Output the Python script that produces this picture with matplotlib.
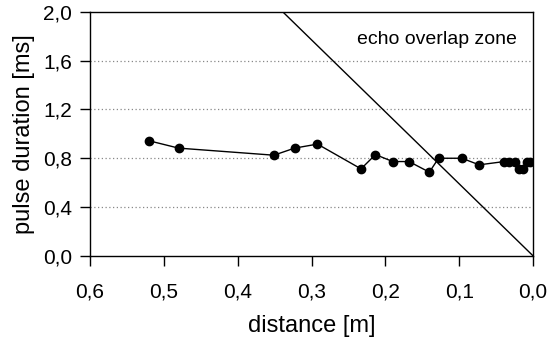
import matplotlib.pyplot as plt

plt.rcParams['font.family'] = ['Liberation Sans', 'DejaVu Sans']

# pulse duration vs distance
distance = [0.520, 0.480, 0.351, 0.323, 0.292, 0.233, 0.2135, 0.190, 0.168, 0.1405,
            0.128, 0.0964, 0.073, 0.039, 0.032, 0.025, 0.019, 0.013, 0.008, 0.004]
duration = [0.943, 0.883, 0.825, 0.883, 0.916, 0.713, 0.830, 0.773, 0.773, 0.686,
            0.800, 0.800, 0.746, 0.773, 0.773, 0.773, 0.713, 0.713, 0.773, 0.773]

# echo overlap boundary
overlap_x = [0.0, 0.339]
overlap_y = [0.0, 2.0]

x_ticks = [0.6, 0.5, 0.4, 0.3, 0.2, 0.1, 0.0]
x_labels = ['0,6', '0,5', '0,4', '0,3', '0,2', '0,1', '0,0']
y_ticks = [0.0, 0.4, 0.8, 1.2, 1.6, 2.0]
y_labels = ['0,0', '0,4', '0,8', '1,2', '1,6', '2,0']

fig = plt.figure(figsize=(5.49, 3.38), dpi=100)
ax = fig.add_axes([0.164, 0.243, 0.807, 0.722])

# dotted grid lines
for y in y_ticks[1:-1]:
    ax.axhline(y, color='#888888', linestyle=(0, (1, 2)), linewidth=0.9, zorder=0)

ax.plot(overlap_x, overlap_y, color='black', linewidth=1.0)
ax.plot(distance, duration, color='black', linewidth=1.0, marker='o', markersize=6)

ax.text(0.239, 1.77, 'echo overlap zone', fontsize=14, ha='left', va='center')

ax.set_xlim(0.6, 0.0)
ax.set_ylim(0.0, 2.0)
ax.set_xticks(x_ticks)
ax.set_xticklabels(x_labels)
ax.set_yticks(y_ticks)
ax.set_yticklabels(y_labels)
ax.tick_params(direction='out', length=7, width=1, labelsize=15)
ax.tick_params(axis='x', pad=12)
ax.tick_params(axis='y', pad=6)

for s in ax.spines.values():
    s.set_linewidth(1.0)

ax.set_xlabel('distance [m]', fontsize=17, labelpad=10)
ax.set_ylabel('pulse duration [ms]', fontsize=17, labelpad=6)

fig.savefig('out.png', dpi=100)
